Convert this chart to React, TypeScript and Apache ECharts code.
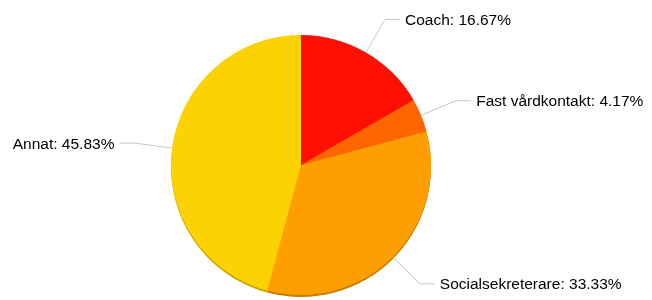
import React, { useEffect, useRef } from "react";
import * as echarts from "echarts";

const categories = ["Coach", "Fast vårdkontakt", "Socialsekreterare", "Annat"];
const values = [4, 1, 8, 11];
const colors = ["#FF0F00", "#FF6600", "#FF9E01", "#FCD202"];
const edgeColors = ["#C80C00", "#C85000", "#C87C00", "#C9A700"];

export default function App() {
  const ref = useRef<HTMLDivElement>(null);
  useEffect(() => {
    if (!ref.current) return;
    const chart = echarts.init(ref.current, undefined, { renderer: "svg" });
    const total = values.reduce((a, b) => a + b, 0);
    chart.setOption({
      animation: false,
      series: [
        {
          type: "pie",
          silent: true,
          center: [301, 167],
          radius: 130,
          startAngle: 90,
          z: 1,
          label: { show: false },
          labelLine: { show: false },
          data: categories.map((c, i) => ({
            name: c,
            value: values[i],
            itemStyle: { color: edgeColors[i] },
          })),
        },
        {
          type: "pie",
          center: [301, 165],
          radius: 130,
          startAngle: 90,
          z: 2,
          avoidLabelOverlap: false,
          label: {
            show: true,
            color: "#000",
            fontFamily: "Liberation Sans, Arial, sans-serif",
            fontSize: 15.5,
            formatter: (p: any) =>
              `${p.name}: ${((p.value / total) * 100).toFixed(2)}%`,
          },
          labelLine: {
            show: true,
            length: 38,
            length2: 15,
            lineStyle: { color: "#c8c8c8", width: 1 },
          },
          data: categories.map((c, i) => ({
            name: c,
            value: values[i],
            itemStyle: { color: colors[i] },
          })),
        },
      ],
    });
    return () => chart.dispose();
  }, []);
  return (
    <div
      ref={ref}
      style={{ position: "fixed", left: 0, top: 0, width: 652, height: 300 }}
    />
  );
}
